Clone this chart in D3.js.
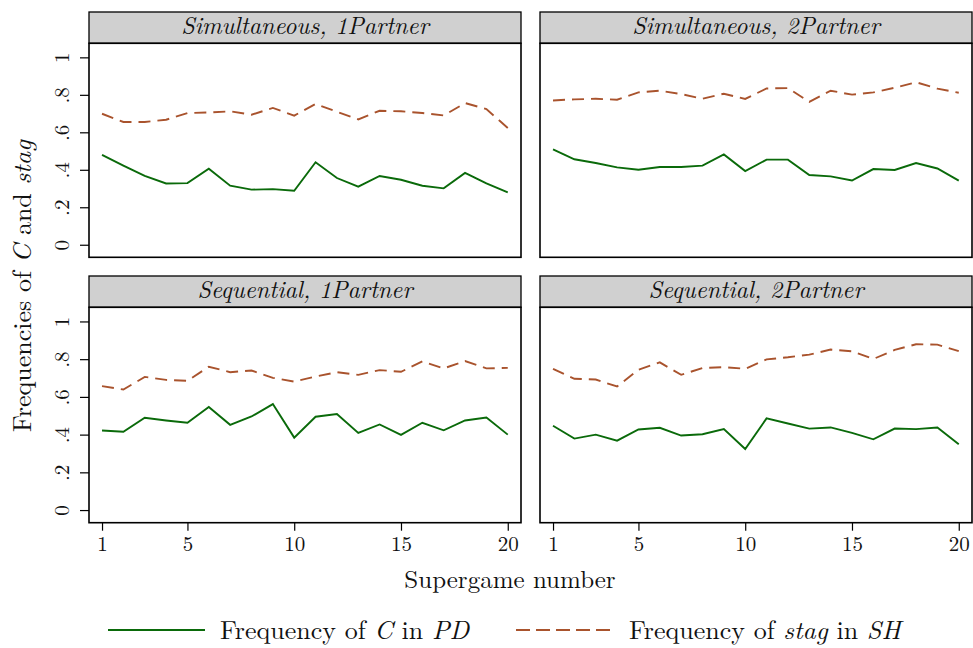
<!DOCTYPE html>
<html>
<head>
<meta charset="utf-8">
<script src="https://cdn.jsdelivr.net/npm/d3@7"></script>
</head>
<body style="margin:0">
<svg id="chart" width="973" height="648"></svg>
<script>
// Supergame numbers 1..20
const supergames = [1,2,3,4,5,6,7,8,9,10,11,12,13,14,15,16,17,18,19,20];

// Frequency of C in PD, by treatment
const coopSim1 = [0.480,0.422,0.367,0.327,0.329,0.406,0.315,0.294,0.297,0.288,0.440,0.356,0.310,0.367,0.347,0.315,0.301,0.383,0.327,0.279];
const coopSim2 = [0.509,0.456,0.436,0.413,0.400,0.415,0.415,0.422,0.482,0.393,0.454,0.454,0.372,0.365,0.343,0.404,0.399,0.436,0.407,0.342];
const coopSeq1 = [0.422,0.415,0.489,0.475,0.463,0.546,0.452,0.496,0.562,0.384,0.495,0.509,0.409,0.454,0.399,0.463,0.423,0.475,0.491,0.400];
const coopSeq2 = [0.447,0.379,0.400,0.368,0.427,0.436,0.395,0.402,0.429,0.324,0.486,0.459,0.432,0.438,0.409,0.375,0.432,0.429,0.438,0.349];

// Frequency of stag in SH, by treatment
const stagSim1 = [0.699,0.655,0.655,0.667,0.703,0.706,0.712,0.694,0.730,0.689,0.751,0.710,0.669,0.715,0.712,0.703,0.690,0.756,0.724,0.623];
const stagSim2 = [0.770,0.776,0.779,0.774,0.813,0.822,0.804,0.779,0.806,0.778,0.834,0.836,0.762,0.822,0.801,0.813,0.838,0.867,0.833,0.811];
const stagSeq1 = [0.657,0.639,0.706,0.690,0.685,0.760,0.731,0.740,0.701,0.681,0.708,0.731,0.717,0.742,0.733,0.788,0.751,0.790,0.751,0.754];
const stagSeq2 = [0.749,0.696,0.692,0.655,0.744,0.783,0.717,0.753,0.758,0.749,0.799,0.810,0.824,0.851,0.842,0.801,0.849,0.879,0.877,0.843];

// Panel titles: [timing, partners]
const panelTitles = [["Simultaneous", "1Partner"], ["Simultaneous", "2Partner"], ["Sequential", "1Partner"], ["Sequential", "2Partner"]];

const yTicks = [0, 0.2, 0.4, 0.6, 0.8, 1];
const yTickLabels = ["0", ".2", ".4", ".6", ".8", "1"];
const xTicks = [1, 5, 10, 15, 20];

const FONT = "'Latin Modern Roman', serif";
const GREEN = "#0a6a0a";
const SIENNA = "#a9532d";

const panels = [
  { title: panelTitles[0], coop: coopSim1, stag: stagSim1, col: 0, row: 0 },
  { title: panelTitles[1], coop: coopSim2, stag: stagSim2, col: 1, row: 0 },
  { title: panelTitles[2], coop: coopSeq1, stag: stagSeq1, col: 0, row: 1 },
  { title: panelTitles[3], coop: coopSeq2, stag: stagSeq2, col: 1, row: 1 }
];

const colX = [[89, 521], [540, 972]];
const rowY = [{ head: 12, top: 43.3, bottom: 257.3 }, { head: 276, top: 307.3, bottom: 522.7 }];

const svg = d3.select("#chart");

function label(sel, size) {
  return sel.style("font-family", FONT).style("font-size", size + "px").attr("fill", "#111");
}

panels.forEach(p => {
  const [x0, x1] = colX[p.col];
  const r = rowY[p.row];
  const x = d3.scaleLinear().domain([0.39, 20.62]).range([x0, x1]);
  const y = d3.scaleLinear().domain([-0.067, 1.075]).range([r.bottom, r.top]);
  const g = svg.append("g");

  // header strip
  g.append("rect")
    .attr("x", x0).attr("y", r.head)
    .attr("width", x1 - x0).attr("height", r.top - r.head)
    .attr("fill", "#d0d0d0").attr("stroke", "#000").attr("stroke-width", 1.3);
  const t = label(g.append("text"), 24)
    .attr("x", (x0 + x1) / 2).attr("y", r.head + 22)
    .attr("text-anchor", "middle")
    .style("font-style", "italic");
  t.append("tspan").text(p.title[0] + ", ");
  t.append("tspan").text(p.title[1]);

  // plot frame
  g.append("rect")
    .attr("x", x0).attr("y", r.top)
    .attr("width", x1 - x0).attr("height", r.bottom - r.top)
    .attr("fill", "#fff").attr("stroke", "#000").attr("stroke-width", 1.6);

  // y axis only on left column
  if (p.col === 0) {
    const ya = d3.axisLeft(y).tickValues(yTicks).tickSize(9).tickPadding(5)
      .tickFormat((d, i) => yTickLabels[i]);
    const ag = g.append("g").attr("transform", `translate(${x0},0)`).call(ya);
    ag.attr("font-family", null).attr("font-size", null);
    ag.select(".domain").remove();
    ag.selectAll(".tick line").attr("stroke", "#000").attr("stroke-width", 1.2);
    label(ag.selectAll(".tick text"), 21)
      .attr("x", null).attr("dy", null)
      .attr("text-anchor", "middle")
      .attr("transform", "translate(-20,0) rotate(-90)");
  }

  // x axis only on bottom row
  if (p.row === 1) {
    const xa = d3.axisBottom(x).tickValues(xTicks).tickSize(8).tickPadding(5);
    const ag = g.append("g").attr("transform", `translate(0,${r.bottom})`).call(xa);
    ag.attr("font-family", null).attr("font-size", null);
    ag.select(".domain").remove();
    ag.selectAll(".tick line").attr("stroke", "#000").attr("stroke-width", 1.2);
    label(ag.selectAll(".tick text"), 21);
  }

  const line = d3.line().x((d, i) => x(supergames[i])).y(d => y(d));

  g.append("path").datum(p.stag)
    .attr("d", line).attr("fill", "none")
    .attr("stroke", SIENNA).attr("stroke-width", 1.9)
    .attr("stroke-dasharray", "12,7");

  g.append("path").datum(p.coop)
    .attr("d", line).attr("fill", "none")
    .attr("stroke", GREEN).attr("stroke-width", 1.9);
});

// axis titles
label(svg.append("text"), 25)
  .attr("x", 510).attr("y", 588)
  .attr("text-anchor", "middle")
  .text("Supergame number");

const yl = label(svg.append("text"), 26)
  .attr("transform", "translate(31,286) rotate(-90)")
  .attr("text-anchor", "middle");
yl.append("tspan").text("Frequencies of ");
yl.append("tspan").style("font-style", "italic").text("C");
yl.append("tspan").text(" and ");
yl.append("tspan").style("font-style", "italic").text("stag");

// legend
const leg = svg.append("g");
leg.append("line").attr("x1", 108).attr("x2", 205).attr("y1", 630).attr("y2", 630)
  .attr("stroke", GREEN).attr("stroke-width", 2);
const l1 = label(leg.append("text"), 26).attr("x", 220).attr("y", 639);
l1.append("tspan").text("Frequency of ");
l1.append("tspan").style("font-style", "italic").text("C");
l1.append("tspan").text(" in ");
l1.append("tspan").style("font-style", "italic").text("PD");

leg.append("line").attr("x1", 516).attr("x2", 613).attr("y1", 630).attr("y2", 630)
  .attr("stroke", SIENNA).attr("stroke-width", 2).attr("stroke-dasharray", "14,6");
const l2 = label(leg.append("text"), 26).attr("x", 629).attr("y", 639);
l2.append("tspan").text("Frequency of ");
l2.append("tspan").style("font-style", "italic").text("stag");
l2.append("tspan").text(" in ");
l2.append("tspan").style("font-style", "italic").text("SH");
</script>
</body>
</html>
